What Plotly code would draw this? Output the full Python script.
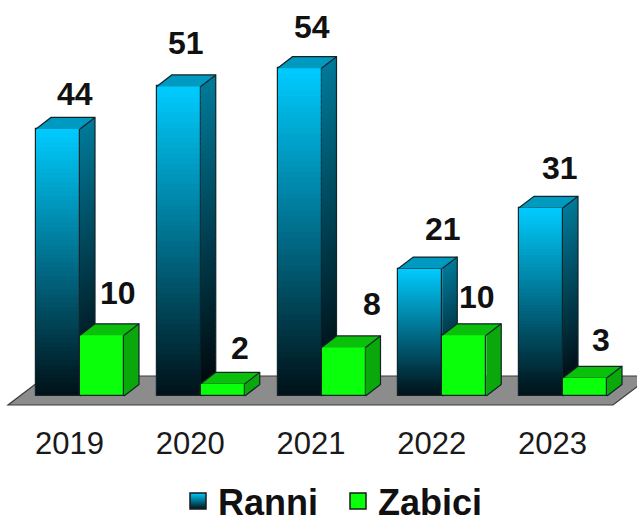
import plotly.graph_objects as go

# Data
years = ["2019", "2020", "2021", "2022", "2023"]
ranni = [44, 51, 54, 21, 31]
zabici = [10, 2, 8, 10, 3]

# Layout helpers (pixels -> axis units)
W, H, AXIS_PX, BASE_PX = 637, 523, 422, 396
PX_X = 120.75
PX_Y = 6.07
FIRST_TICK_PX = 71
idx = list(range(len(years)))
tick_pos = [i - 1.5 / PX_X for i in idx]
BAR_W = 44 / PX_X
R_OFF = -35 / PX_X
Z_OFF = 9 / PX_X
DX = 15 / PX_X
DY = 11.5 / PX_Y
N = 60
OVER = 0.6
xr = [-FIRST_TICK_PX / PX_X, (W - FIRST_TICK_PX) / PX_X]
yr = [(BASE_PX - AXIS_PX) / PX_Y, BASE_PX / PX_Y]
EDGE = "#10242a"
R_LABEL_SHIFT = [17, 7, 12, 23, 19]
R_LABEL_GAP = [35, 43, 41, 40, 40]
Z_LABEL_SHIFT = [16, 17, 28, 13, 16]
Z_LABEL_GAP = [42, 36, 43, 38, 38]


def mix(c0, c1, t):
    return "rgb(%d,%d,%d)" % tuple(round(a + (b - a) * t) for a, b in zip(c0, c1))


fig = go.Figure()


def add_series(values, offset, xa, ya, name, front, side, topc, gradient):
    rights = [i + offset + BAR_W for i in idx]
    steps = N if gradient else 1
    # front faces
    bx, bbase, bh, bc = [], [], [], []
    for k in range(steps):
        for i, v in zip(idx, values):
            bx.append(i)
            bbase.append(v * k / steps)
            bh.append(v / steps + (v / steps * OVER if k < steps - 1 else 0))
            bc.append(mix(front[1], front[0], (k + 0.5) / steps))
    fig.add_trace(go.Bar(x=bx, y=bh, base=bbase, width=BAR_W, offset=offset,
                         marker=dict(color=bc, line=dict(width=0)),
                         xaxis=xa, yaxis=ya, showlegend=False, hoverinfo="skip"))
    fig.add_trace(go.Bar(x=idx, y=values, width=BAR_W, offset=offset,
                         marker=dict(color="rgba(0,0,0,0)", line=dict(width=1.2, color=EDGE)),
                         xaxis=xa, yaxis=ya, showlegend=False, hoverinfo="skip"))
    # side faces
    for k in range(steps):
        px, py = [], []
        for r, v in zip(rights, values):
            y0 = v * k / steps
            y1 = v * (k + 1) / steps + (v / steps * OVER if k < steps - 1 else 0)
            px += [r, r + DX, r + DX, r, r, None]
            py += [y0, y0 + DY, y1 + DY, y1, y0, None]
        col = mix(side[1], side[0], (k + 0.5) / steps)
        fig.add_trace(go.Scatter(x=px, y=py, mode="lines", fill="toself", fillcolor=col,
                                 line=dict(width=0), xaxis=xa, yaxis=ya,
                                 showlegend=False, hoverinfo="skip"))
    # top faces and outlines
    px, py, ox, oy = [], [], [], []
    for r, v in zip(rights, values):
        l = r - BAR_W
        px += [l, r, r + DX, l + DX, l, None]
        py += [v, v, v + DY, v + DY, v, None]
        ox += [l, l + DX, r + DX, r + DX, r, None, r, r + DX, None]
        oy += [v, v + DY, v + DY, DY, 0, None, v, v + DY, None]
    fig.add_trace(go.Scatter(x=px, y=py, mode="lines", fill="toself", fillcolor=topc,
                             line=dict(width=0), xaxis=xa, yaxis=ya,
                             showlegend=False, hoverinfo="skip"))
    fig.add_trace(go.Scatter(x=ox, y=oy, mode="lines", line=dict(width=1.2, color=EDGE),
                             xaxis=xa, yaxis=ya, showlegend=False, hoverinfo="skip"))


add_series(ranni, R_OFF, "x", "y", "Ranni", ((0, 204, 255), (0, 16, 22)),
           ((0, 122, 153), (0, 6, 10)), "#0099bf", True)
add_series(zabici, Z_OFF, "x2", "y2", "Zabici", ((10, 255, 10), (10, 255, 10)),
           ((10, 168, 10), (10, 168, 10)), "#0bc00b", False)

# Legend entries (points sit outside the axis ranges; only the key shows)
fig.add_trace(go.Scatter(x=[-50], y=[-500], mode="markers", name="Ranni", hoverinfo="skip",
                         marker=dict(symbol="square", size=22, color="#00ccff",
                                     gradient=dict(type="vertical", color="#00141c"),
                                     line=dict(width=1.5, color="#1a1a1a"))))
fig.add_trace(go.Scatter(x=[-50], y=[-500], mode="markers", name="Zabici", hoverinfo="skip",
                         marker=dict(symbol="square", size=22, color="#0aff0a",
                                     line=dict(width=1.5, color="#1a1a1a"))))

# Value labels
for vals, off, shifts, gaps in ((ranni, R_OFF, R_LABEL_SHIFT, R_LABEL_GAP),
                                (zabici, Z_OFF, Z_LABEL_SHIFT, Z_LABEL_GAP)):
    for i, v, s, g in zip(idx, vals, shifts, gaps):
        fig.add_annotation(x=i + off + BAR_W / 2, y=v, xref="x", yref="y", text=str(v),
                           showarrow=False, xshift=s, yshift=g,
                           font=dict(family="Liberation Sans", size=32, color="#111111",
                                     weight="bold"))

# Floor
fx0, fx1 = (8 - FIRST_TICK_PX) / PX_X, (613 - FIRST_TICK_PX) / PX_X
fy0, fy1 = (BASE_PX - 405) / PX_Y, (BASE_PX - 376) / PX_Y
slant = 38 / PX_X
fig.add_shape(type="path", layer="below", xref="x", yref="y",
              path=f"M {fx0} {fy0} L {fx1} {fy0} L {fx1 + slant} {fy1} L {fx0 + slant} {fy1} Z",
              fillcolor="#8c8c8c", line=dict(color="#3a3a3a", width=1.2))

axis_off = dict(visible=False, fixedrange=True)
fig.update_layout(
    width=W, height=H, autosize=False,
    margin=dict(l=0, r=0, t=0, b=H - AXIS_PX, pad=0),
    paper_bgcolor="white", plot_bgcolor="rgba(0,0,0,0)",
    barmode="overlay", bargap=0,
    xaxis=dict(range=xr, tickmode="array", tickvals=tick_pos, ticktext=years, showgrid=False,
               zeroline=False, showline=False, ticks="", fixedrange=True,
               tickfont=dict(family="Liberation Sans", size=31, color="#1a1a1a")),
    yaxis=dict(range=yr, **axis_off),
    xaxis2=dict(range=xr, overlaying="x", **axis_off),
    yaxis2=dict(range=yr, overlaying="y", **axis_off),
    legend=dict(orientation="h", x=178 / W, xanchor="left", yref="container", y=1 - 501 / H,
                yanchor="middle", bgcolor="rgba(0,0,0,0)", itemwidth=30, tracegroupgap=0,
                entrywidth=115, entrywidthmode="pixels",
                font=dict(family="Liberation Sans", size=36, color="#111111", weight="bold")),
    showlegend=True,
)

fig.write_html("out.html", config={"displayModeBar": False},
               post_script="document.body.style.margin='0';document.documentElement.style.overflow='hidden';")
